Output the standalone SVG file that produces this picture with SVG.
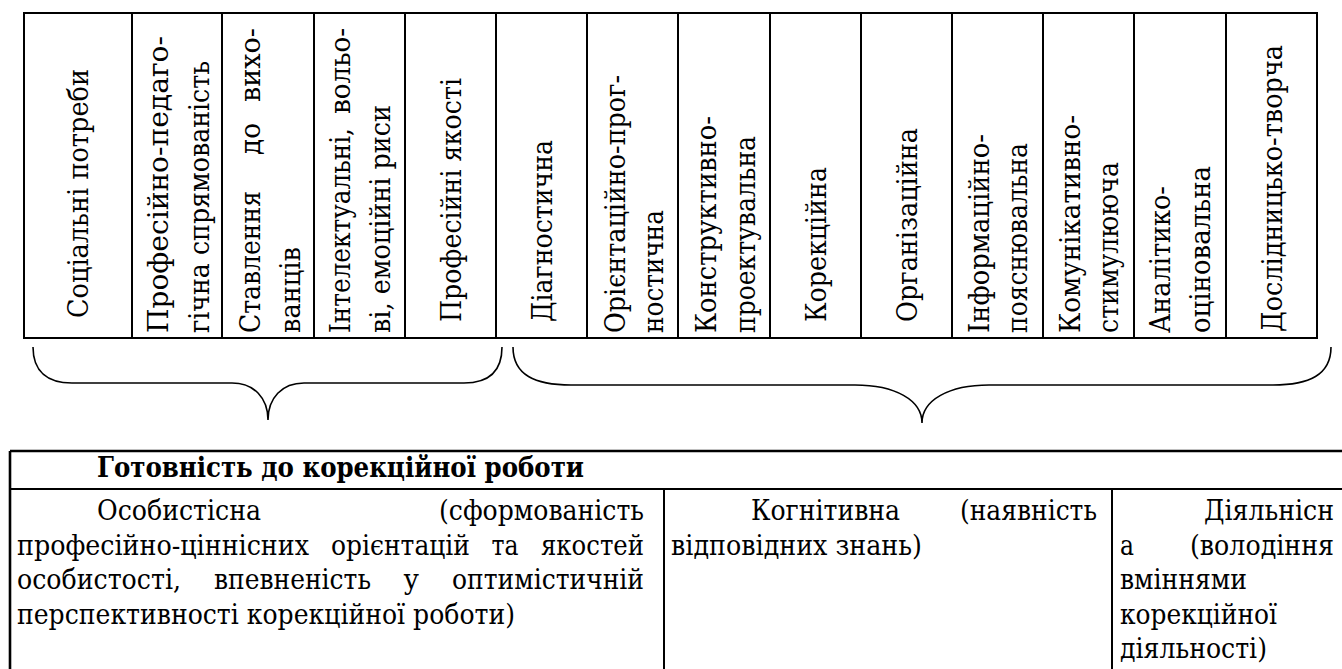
<svg xmlns="http://www.w3.org/2000/svg" width="1342" height="669" viewBox="0 0 1342 669">
<style>
.bg{fill:#fff}
.ln{stroke:#000;stroke-width:2;fill:none}
.ln3{stroke:#000;stroke-width:2.6;fill:none}
.br{stroke:#000;stroke-width:1.6;fill:none}
.v{font-family:'DejaVu Serif',serif;font-size:28.5px;fill:#000}
.t{font-family:'DejaVu Serif',serif;font-size:28px;fill:#000}
.hb{font-weight:bold}
.e{text-anchor:end}
</style>
<rect class="bg" x="0" y="0" width="1342" height="669"/>
<g id="top-table">
<rect class="ln" x="24" y="13" width="1293" height="325"/>
<path class="ln" d="M132,13V338M222,13V338M314,13V338M405,13V338M496,13V338M587,13V338M678,13V338M770,13V338M861,13V338M952,13V338M1043,13V338M1134,13V338M1226,13V338"/>
</g>
<g id="col-socialni-potreby"><text class="v" transform="translate(88,318) rotate(-90)" textLength="249" lengthAdjust="spacingAndGlyphs">Соціальні потреби</text></g>
<g id="col-profesiyno-pedahohichna">
<text class="v" transform="translate(168,333) rotate(-90)" textLength="297" lengthAdjust="spacingAndGlyphs">Професійно-педаго-</text>
<text class="v" transform="translate(209,333) rotate(-90)" textLength="272" lengthAdjust="spacingAndGlyphs">гічна спрямованість</text>
</g>
<g id="col-stavlennia">
<text class="v" transform="translate(260,333) rotate(-90)" textLength="142" lengthAdjust="spacingAndGlyphs">Ставлення</text>
<text class="v" transform="translate(260,155) rotate(-90)" textLength="32" lengthAdjust="spacingAndGlyphs">до</text>
<text class="v e" transform="translate(260,28) rotate(-90)" textLength="74" lengthAdjust="spacingAndGlyphs">вихо-</text>
<text class="v" transform="translate(300,333) rotate(-90)" textLength="86" lengthAdjust="spacingAndGlyphs">ванців</text>
</g>
<g id="col-intelektualni">
<text class="v" transform="translate(350,333) rotate(-90)" textLength="205" lengthAdjust="spacingAndGlyphs">Інтелектуальні,</text>
<text class="v e" transform="translate(350,28) rotate(-90)" textLength="86" lengthAdjust="spacingAndGlyphs">вольо-</text>
<text class="v" transform="translate(390,333) rotate(-90)" textLength="228" lengthAdjust="spacingAndGlyphs">ві, емоційні риси</text>
</g>
<g id="col-profesiyni-yakosti"><text class="v" transform="translate(461,322) rotate(-90)" textLength="244" lengthAdjust="spacingAndGlyphs">Професійні якості</text></g>
<g id="col-diahnostychna"><text class="v" transform="translate(552,322) rotate(-90)" textLength="182" lengthAdjust="spacingAndGlyphs">Діагностична</text></g>
<g id="col-oriientatsiyno">
<text class="v" transform="translate(625,333) rotate(-90)" textLength="258" lengthAdjust="spacingAndGlyphs">Орієнтаційно-прог-</text>
<text class="v" transform="translate(663,333) rotate(-90)" textLength="123" lengthAdjust="spacingAndGlyphs">ностична</text>
</g>
<g id="col-konstruktyvno">
<text class="v" transform="translate(716,333) rotate(-90)" textLength="217" lengthAdjust="spacingAndGlyphs">Конструктивно-</text>
<text class="v" transform="translate(755,333) rotate(-90)" textLength="197" lengthAdjust="spacingAndGlyphs">проектувальна</text>
</g>
<g id="col-korektsiyna"><text class="v" transform="translate(826,322) rotate(-90)" textLength="155" lengthAdjust="spacingAndGlyphs">Корекційна</text></g>
<g id="col-orhanizatsiyna"><text class="v" transform="translate(917,322) rotate(-90)" textLength="194" lengthAdjust="spacingAndGlyphs">Організаційна</text></g>
<g id="col-informatsiyno">
<text class="v" transform="translate(989,333) rotate(-90)" textLength="199" lengthAdjust="spacingAndGlyphs">Інформаційно-</text>
<text class="v" transform="translate(1027,333) rotate(-90)" textLength="190" lengthAdjust="spacingAndGlyphs">пояснювальна</text>
</g>
<g id="col-komunikatyvno">
<text class="v" transform="translate(1080,333) rotate(-90)" textLength="218" lengthAdjust="spacingAndGlyphs">Комунікативно-</text>
<text class="v" transform="translate(1118,333) rotate(-90)" textLength="171" lengthAdjust="spacingAndGlyphs">стимулююча</text>
</g>
<g id="col-analityko">
<text class="v" transform="translate(1170,333) rotate(-90)" textLength="147" lengthAdjust="spacingAndGlyphs">Аналітико-</text>
<text class="v" transform="translate(1210,333) rotate(-90)" textLength="167" lengthAdjust="spacingAndGlyphs">оціновальна</text>
</g>
<g id="col-doslidnytsko"><text class="v" transform="translate(1282,332) rotate(-90)" textLength="287" lengthAdjust="spacingAndGlyphs">Дослідницько-творча</text></g>
<g id="connectors">
<path class="br" d="M33,347 C33,372 48,383 72,383 L232,383 C254,383 268,398 268,420 C268,398 282,383 304,383 L464,383 C488,383 502,372 502,347"/>
<path class="br" d="M513,347 C513,375 535,385 571,385 L855,385 C895,385 922,400 922,423 C922,400 949,385 989,385 L1273,385 C1309,385 1331,375 1331,347"/>
</g>
<g id="bottom-table">
<path class="ln3" d="M10,451H1342M10,451V669"/>
<path class="ln" d="M10,489H1342M664,489V669M1112,489V669"/>
</g>
<g id="header-hotovnist"><text class="t hb" x="97" y="477" textLength="487" lengthAdjust="spacingAndGlyphs">Готовність до корекційної роботи</text></g>
<g id="cell-osobystisna">
<text class="t" x="97" y="520" textLength="164" lengthAdjust="spacingAndGlyphs">Особистісна</text>
<text class="t e" x="644" y="520" textLength="205" lengthAdjust="spacingAndGlyphs">(сформованість</text>
<text class="t" x="17" y="554.5" textLength="292" lengthAdjust="spacingAndGlyphs">професійно-ціннісних</text>
<text class="t" x="331" y="554.5" textLength="139" lengthAdjust="spacingAndGlyphs">орієнтацій</text>
<text class="t" x="491.5" y="554.5" textLength="27" lengthAdjust="spacingAndGlyphs">та</text>
<text class="t e" x="644" y="554.5" textLength="103" lengthAdjust="spacingAndGlyphs">якостей</text>
<text class="t" x="17" y="589" textLength="164" lengthAdjust="spacingAndGlyphs">особистості,</text>
<text class="t" x="214" y="589" textLength="157" lengthAdjust="spacingAndGlyphs">впевненість</text>
<text class="t" x="403.5" y="589" textLength="15.5" lengthAdjust="spacingAndGlyphs">у</text>
<text class="t e" x="644" y="589" textLength="192" lengthAdjust="spacingAndGlyphs">оптимістичній</text>
<text class="t" x="17" y="623.5" textLength="498" lengthAdjust="spacingAndGlyphs">перспективності корекційної роботи)</text>
</g>
<g id="cell-kohnityvna">
<text class="t" x="751" y="520" textLength="149" lengthAdjust="spacingAndGlyphs">Когнітивна</text>
<text class="t e" x="1097" y="520" textLength="137" lengthAdjust="spacingAndGlyphs">(наявність</text>
<text class="t" x="671" y="554.5" textLength="251" lengthAdjust="spacingAndGlyphs">відповідних знань)</text>
</g>
<g id="cell-diialnisna">
<text class="t e" x="1334" y="520" textLength="130" lengthAdjust="spacingAndGlyphs">Діяльнісн</text>
<text class="t" x="1120" y="554.5" textLength="14" lengthAdjust="spacingAndGlyphs">а</text>
<text class="t e" x="1334" y="554.5" textLength="144" lengthAdjust="spacingAndGlyphs">(володіння</text>
<text class="t" x="1120" y="589" textLength="127" lengthAdjust="spacingAndGlyphs">вміннями</text>
<text class="t" x="1120" y="623.5" textLength="157" lengthAdjust="spacingAndGlyphs">корекційної</text>
<text class="t" x="1120" y="658" textLength="147" lengthAdjust="spacingAndGlyphs">діяльності)</text>
</g>
</svg>
